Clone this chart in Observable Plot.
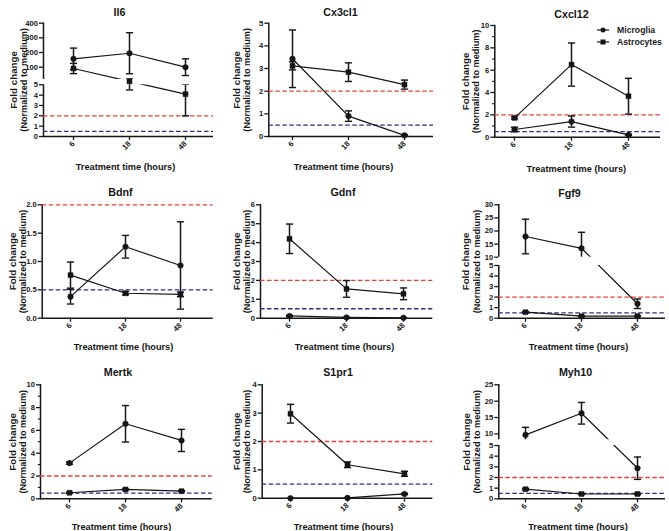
<!DOCTYPE html>
<html>
<head>
<meta charset="utf-8">
<script src="https://cdn.jsdelivr.net/npm/d3@7"></script>
<script src="https://cdn.jsdelivr.net/npm/@observablehq/plot@0.6"></script>
<style>
  html, body { margin: 0; padding: 0; background: #fff; }
  #fig { position: relative; width: 669px; height: 531px; overflow: hidden; background: #fff;
         font-family: "Liberation Sans", Arial, sans-serif; }
  .panel { position: absolute; }
  .legend-item { position: absolute; display: flex; align-items: center; font-weight: bold; font-size: 8.7px; color: #1b1b1b; white-space: nowrap; }
  .legend-item svg { margin-right: 8px; }
</style>
</head>
<body>
<div id="fig"></div>
<script>
// ---------------- DATA ----------------
const times = ["6", "18", "48"];
const cellTypes = ["Microglia", "Astrocytes"];
const upThreshold = 2;
const downThreshold = 0.5;

const il6Microglia = [157, 195, 100];
const il6MicrogliaSem = [73, 140, 57];
const il6Astrocytes = [91, 12, 4.1];
const il6AstrocytesSem = [35, 7.5, 2.1];
const il6Domain = [0, 5, 16, 400];
const il6Ticks = [0, 1, 2, 3, 4, 5, 100, 200, 300, 400];

const cx3cl1Microglia = [3.43, 0.9, 0.05];
const cx3cl1MicrogliaSem = [1.27, 0.23, 0.03];
const cx3cl1Astrocytes = [3.12, 2.84, 2.29];
const cx3cl1AstrocytesSem = [0.18, 0.41, 0.2];
const cx3cl1Domain = [0, 5];
const cx3cl1Ticks = [0, 1, 2, 3, 4, 5];

const cxcl12Microglia = [0.69, 1.4, 0.21];
const cxcl12MicrogliaSem = [0.2, 0.5, 0.05];
const cxcl12Astrocytes = [1.73, 6.5, 3.67];
const cxcl12AstrocytesSem = [0.1, 1.93, 1.6];
const cxcl12Domain = [0, 10];
const cxcl12Ticks = [0, 2, 4, 6, 8, 10];
const cxcl12Minor = [1, 3, 5, 7, 9];

const bdnfMicroglia = [0.38, 1.26, 0.93];
const bdnfMicrogliaSem = [0.13, 0.2, 0.77];
const bdnfAstrocytes = [0.76, 0.44, 0.42];
const bdnfAstrocytesSem = [0.23, 0.03, 0.04];
const bdnfDomain = [0, 2];
const bdnfTicks = [0, 0.5, 1, 1.5, 2];

const gdnfMicroglia = [0.12, 0.04, 0.02];
const gdnfMicrogliaSem = [0.03, 0.01, 0.01];
const gdnfAstrocytes = [4.2, 1.55, 1.29];
const gdnfAstrocytesSem = [0.78, 0.44, 0.31];
const gdnfDomain = [0, 6];
const gdnfTicks = [0, 1, 2, 3, 4, 5, 6];

const fgf9Microglia = [17.9, 13.4, 1.37];
const fgf9MicrogliaSem = [6.6, 6.1, 0.45];
const fgf9Astrocytes = [0.57, 0.19, 0.2];
const fgf9AstrocytesSem = [0.05, 0.03, 0.03];
const fgf9Domain = [0, 5, 10, 30];
const fgf9Ticks = [0, 1, 2, 3, 4, 5, 10, 15, 20, 25, 30];

const mertkMicroglia = [3.13, 6.58, 5.12];
const mertkMicrogliaSem = [0.1, 1.6, 0.97];
const mertkAstrocytes = [0.53, 0.82, 0.67];
const mertkAstrocytesSem = [0.05, 0.05, 0.05];
const mertkDomain = [0, 10];
const mertkTicks = [0, 2, 4, 6, 8, 10];
const mertkMinor = [1, 3, 5, 7, 9];

const s1pr1Microglia = [0.0, 0.01, 0.15];
const s1pr1MicrogliaSem = [0, 0, 0.02];
const s1pr1Astrocytes = [2.98, 1.18, 0.86];
const s1pr1AstrocytesSem = [0.33, 0.1, 0.09];
const s1pr1Domain = [0, 4];
const s1pr1Ticks = [0, 1, 2, 3, 4];

const myh10Microglia = [9.7, 16.3, 2.87];
const myh10MicrogliaSem = [2.3, 3.3, 1.05];
const myh10Astrocytes = [0.9, 0.45, 0.45];
const myh10AstrocytesSem = [0.08, 0.05, 0.05];
const myh10Domain = [0, 5, 8.2, 25];
const myh10Ticks = [0, 1, 2, 3, 4, 5, 10, 15, 20, 25];

// ---------------- LAYOUT (pixel geometry of each panel) ----------------
const panels = [
  {title: "Il6", micro: il6Microglia, microSem: il6MicrogliaSem, astro: il6Astrocytes, astroSem: il6AstrocytesSem, domain: il6Domain, ticks: il6Ticks,
   x0: 0, y0: 0, w: 220, h: 170, axisL: 43, axisR: 213, x6: 72.7, x48: 186, top: 22.7, bottom: 136, yPix: [136, 84.3, 79, 22.7],
   titleX: 119, titleY: 7.5, fcX: 9.5, nmX: 20.3, xlX: 125, xlY: 163},
  {title: "Cx3cl1", micro: cx3cl1Microglia, microSem: cx3cl1MicrogliaSem, astro: cx3cl1Astrocytes, astroSem: cx3cl1AstrocytesSem, domain: cx3cl1Domain, ticks: cx3cl1Ticks,
   x0: 220, y0: 0, w: 220, h: 170, axisL: 268.3, axisR: 433, x6: 291, x48: 404.3, top: 22.7, bottom: 136,
   titleX: 340, titleY: 7.5, fcX: 232.7, nmX: 242.8, xlX: 343, xlY: 163},
  {title: "Cxcl12", micro: cxcl12Microglia, microSem: cxcl12MicrogliaSem, astro: cxcl12Astrocytes, astroSem: cxcl12AstrocytesSem, domain: cxcl12Domain, ticks: cxcl12Ticks, minor: cxcl12Minor,
   x0: 440, y0: 0, w: 229, h: 170, axisL: 494.3, axisR: 660, x6: 513.3, x48: 627.7, top: 25, bottom: 136.7,
   titleX: 571, titleY: 10, fcX: 461.7, nmX: 472, xlX: 575.8, xlY: 165},
  {title: "Bdnf", micro: bdnfMicroglia, microSem: bdnfMicrogliaSem, astro: bdnfAstrocytes, astroSem: bdnfAstrocytesSem, domain: bdnfDomain, ticks: bdnfTicks, fmt: ".1f",
   x0: 0, y0: 170, w: 220, h: 180, axisL: 41.7, axisR: 212.7, x6: 69.3, x48: 181, top: 204.3, bottom: 317.7,
   titleX: 120, titleY: 188.3, fcX: 8.3, nmX: 19.5, xlX: 123, xlY: 343.3},
  {title: "Gdnf", micro: gdnfMicroglia, microSem: gdnfMicrogliaSem, astro: gdnfAstrocytes, astroSem: gdnfAstrocytesSem, domain: gdnfDomain, ticks: gdnfTicks,
   x0: 220, y0: 170, w: 220, h: 180, axisL: 260, axisR: 432.3, x6: 288.3, x48: 402.7, top: 204.3, bottom: 317.7,
   titleX: 342.5, titleY: 188, fcX: 233, nmX: 243.3, xlX: 344, xlY: 343},
  {title: "Fgf9", micro: fgf9Microglia, microSem: fgf9MicrogliaSem, astro: fgf9Astrocytes, astroSem: fgf9AstrocytesSem, domain: fgf9Domain, ticks: fgf9Ticks,
   x0: 440, y0: 170, w: 229, h: 180, axisL: 498.3, axisR: 665, x6: 524.3, x48: 637.7, top: 204.3, bottom: 317.7, yPix: [317.7, 265, 256.7, 204.3],
   titleX: 569, titleY: 189, fcX: 462, nmX: 473, xlX: 578, xlY: 343},
  {title: "Mertk", micro: mertkMicroglia, microSem: mertkMicrogliaSem, astro: mertkAstrocytes, astroSem: mertkAstrocytesSem, domain: mertkDomain, ticks: mertkTicks, minor: mertkMinor,
   x0: 0, y0: 350, w: 220, h: 181, axisL: 40, axisR: 211.7, x6: 67.7, x48: 181.7, top: 384.3, bottom: 498.3,
   titleX: 117.5, titleY: 367.5, fcX: 8.3, nmX: 19.5, xlX: 121, xlY: 523.3},
  {title: "S1pr1", micro: s1pr1Microglia, microSem: s1pr1MicrogliaSem, astro: s1pr1Astrocytes, astroSem: s1pr1AstrocytesSem, domain: s1pr1Domain, ticks: s1pr1Ticks,
   x0: 220, y0: 350, w: 220, h: 181, axisL: 261.7, axisR: 432.3, x6: 290, x48: 404.3, top: 384.3, bottom: 497.7,
   titleX: 337.5, titleY: 368.3, fcX: 233, nmX: 243, xlX: 343, xlY: 523},
  {title: "Myh10", micro: myh10Microglia, microSem: myh10MicrogliaSem, astro: myh10Astrocytes, astroSem: myh10AstrocytesSem, domain: myh10Domain, ticks: myh10Ticks,
   x0: 440, y0: 350, w: 229, h: 181, axisL: 498.3, axisR: 665, x6: 524.3, x48: 637.7, top: 384.3, bottom: 498.3, yPix: [498.3, 445, 439.3, 384.3],
   titleX: 575, titleY: 368, fcX: 463, nmX: 473, xlX: 577.5, xlY: 523}
];

const INK = "#161616";
const RED = "#e5403a";
const BLUE = "#2d2f86";

// horizontal cap glyph for the error bars
const capSymbol = {
  draw(context) {
    context.moveTo(-3.6, 0);
    context.lineTo(3.6, 0);
  }
};

function makePanel(p) {
  const rows = [];
  times.forEach((t, i) => rows.push({time: t, cell: "Microglia", v: p.micro[i], e: p.microSem[i]}));
  times.forEach((t, i) => rows.push({time: t, cell: "Astrocytes", v: p.astro[i], e: p.astroSem[i]}));

  const W = p.w, H = p.h;
  const mL = p.axisL - p.x0, mR = p.x0 + W - p.axisR, mT = p.top - p.y0, mB = p.y0 + H - p.bottom;
  const yRange = (p.yPix || [p.bottom, p.top]).map(v => v - p.y0);
  const midY = (p.bottom - p.top) / 2;
  const broken = p.domain.length > 2;
  const cap = {x: "time", symbol: capSymbol, stroke: INK, strokeWidth: 1.4, fill: "none"};

  const marks = [
    Plot.frame({anchor: "left", stroke: INK, strokeWidth: 1.5}),
    Plot.ruleY([upThreshold], {stroke: RED, strokeWidth: 1.3, strokeDasharray: "4.5,2.5"}),
    Plot.ruleY([downThreshold], {stroke: BLUE, strokeWidth: 1.3, strokeDasharray: "4.5,2.5"}),
    Plot.line(rows, {x: "time", y: "v", z: "cell", stroke: INK, strokeWidth: 1.2}),
    Plot.ruleX(rows, {x: "time", y1: d => d.v - d.e, y2: d => d.v + d.e, stroke: INK, strokeWidth: 1.5}),
    Plot.dot(rows, {...cap, y: d => d.v + d.e}),
    Plot.dot(rows, {...cap, y: d => d.v - d.e})
  ];
  if (broken) {
    marks.push(Plot.rect([0], {y1: () => p.domain[1], y2: () => p.domain[2], fill: "white", insetLeft: -6, insetRight: -2}));
  }
  marks.push(
    Plot.ruleY([0], {stroke: INK, strokeWidth: 1.5}),
    Plot.dot(rows, {x: "time", y: "v", symbol: "cell", fill: INK, stroke: INK, strokeWidth: 0.5, r: 2.8}),
    Plot.axisY(p.ticks, {tickSize: 4, tickPadding: 1.5, fontSize: 7.6, strokeWidth: 1.3, label: null,
                tickFormat: p.fmt ? d3.format(p.fmt) : d3.format("")}),
    Plot.axisX({tickSize: 4, tickPadding: 2, tickRotate: -45, fontSize: 7.6, strokeWidth: 1.3, label: null}),
    Plot.text([p.title], {frameAnchor: "top-left", dx: p.titleX - p.axisL, dy: p.titleY - p.top, textAnchor: "middle", fontSize: 10.7}),
    Plot.text(["Fold change"], {frameAnchor: "top-left", dx: p.fcX - p.axisL, dy: midY, rotate: -90, textAnchor: "middle", fontSize: 9.8}),
    Plot.text(["(Normalized to medium)"], {frameAnchor: "top-left", dx: p.nmX - p.axisL, dy: midY, rotate: -90, textAnchor: "middle", fontSize: 9.1}),
    Plot.text(["Treatment time (hours)"], {frameAnchor: "top-left", dx: p.xlX - p.axisL, dy: p.xlY - p.top, textAnchor: "middle", fontSize: 9.2})
  );
  if (p.minor) marks.push(Plot.axisY(p.minor, {tickSize: 2.2, strokeWidth: 1.1, tickFormat: () => "", label: null}));

  const chart = Plot.plot({
    width: W, height: H,
    marginLeft: mL, marginRight: mR, marginTop: mT, marginBottom: mB,
    style: {fontFamily: "'Liberation Sans', Arial, sans-serif", fontWeight: "bold", color: INK, background: "transparent", overflow: "visible"},
    x: {type: "point", domain: times, range: [p.x6 - p.x0, p.x48 - p.x0], padding: 0},
    y: {type: "linear", domain: p.domain, range: yRange},
    symbol: {domain: cellTypes, range: ["circle", "square"]},
    marks
  });
  const wrap = document.createElement("div");
  wrap.className = "panel";
  wrap.style.left = p.x0 + "px";
  wrap.style.top = p.y0 + "px";
  wrap.appendChild(chart);
  return wrap;
}

const fig = document.getElementById("fig");
panels.forEach(p => fig.appendChild(makePanel(p)));

// Legend (inside the Cxcl12 panel, top right)
const legendItems = [
  {label: cellTypes[0], shape: "circle", cy: 30},
  {label: cellTypes[1], shape: "square", cy: 41.5}
];
legendItems.forEach(it => {
  const div = document.createElement("div");
  div.className = "legend-item";
  div.style.left = "597px";
  div.style.top = (it.cy - 5) + "px";
  div.style.height = "10px";
  const glyph = it.shape === "circle"
    ? '<circle cx="6" cy="5" r="2.5" fill="' + INK + '"/>'
    : '<rect x="3.5" y="2.5" width="5" height="5" fill="' + INK + '"/>';
  div.innerHTML = '<svg width="12" height="10"><line x1="0" y1="5" x2="12" y2="5" stroke="' + INK + '" stroke-width="1.2"/>' + glyph + '</svg><span>' + it.label + '</span>';
  fig.appendChild(div);
});
</script>
</body>
</html>
